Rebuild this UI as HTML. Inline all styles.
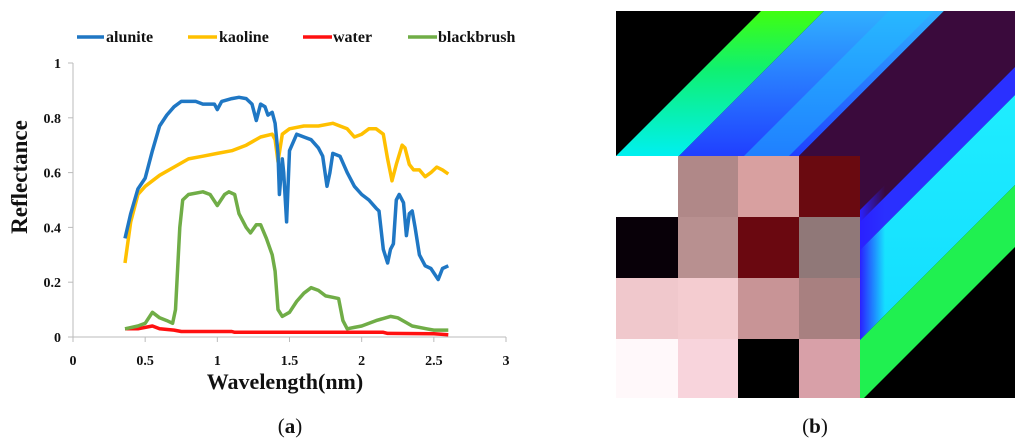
<!DOCTYPE html>
<html><head><meta charset="utf-8"><style>
body{margin:0;background:#fff;}
svg{display:block;font-family:"Liberation Serif",serif;}
</style></head><body>
<svg width="1024" height="446" viewBox="0 0 1024 446">
<defs>
<clipPath id="imgclip"><rect x="616" y="11" width="399" height="387"/></clipPath>
<clipPath id="lowclip"><rect x="860" y="156" width="155" height="242"/></clipPath>
<linearGradient id="g1" gradientUnits="userSpaceOnUse" x1="0" y1="11" x2="0" y2="156"><stop offset="0" stop-color="#40ff10"/><stop offset="0.4" stop-color="#10f070"/><stop offset="1" stop-color="#00f0f0"/></linearGradient>
<linearGradient id="g2" gradientUnits="userSpaceOnUse" x1="0" y1="11" x2="0" y2="300"><stop offset="0" stop-color="#30b0ff"/><stop offset="0.5" stop-color="#2040ff"/><stop offset="1" stop-color="#3010e0"/></linearGradient>
<linearGradient id="g4" gradientUnits="userSpaceOnUse" x1="0" y1="60" x2="0" y2="398"><stop offset="0" stop-color="#20f0ff"/><stop offset="1" stop-color="#10d8ff"/></linearGradient>
<linearGradient id="gb" gradientUnits="userSpaceOnUse" x1="860" y1="0" x2="885" y2="0"><stop offset="0" stop-color="#2a20ff"/><stop offset="1" stop-color="#2a20ff" stop-opacity="0"/></linearGradient>
</defs>
<g font-weight="bold" font-size="16">
<line x1="77" y1="37" x2="104" y2="37" stroke="#1f77c4" stroke-width="3.5"/><text x="106" y="42" fill="#111">alunite</text>
<line x1="188" y1="37" x2="217" y2="37" stroke="#ffc000" stroke-width="3.5"/><text x="219" y="42" fill="#111">kaoline</text>
<line x1="303" y1="37" x2="332" y2="37" stroke="#ff1010" stroke-width="3.5"/><text x="333" y="42" fill="#111">water</text>
<line x1="408" y1="37" x2="437" y2="37" stroke="#70ad47" stroke-width="3.5"/><text x="438" y="42" fill="#111">blackbrush</text>
</g>
<g id="axes"></g>
<g id="series"></g>
<text x="285" y="389" text-anchor="middle" font-size="22" font-weight="bold" fill="#111">Wavelength(nm)</text>
<text transform="translate(27,177) rotate(-90)" text-anchor="middle" font-size="23" font-weight="bold" fill="#111">Reflectance</text>
<text x="290" y="433" text-anchor="middle" font-size="21" fill="#111">(<tspan font-weight="bold">a</tspan>)</text>
<text x="815" y="433" text-anchor="middle" font-size="21" fill="#111">(<tspan font-weight="bold">b</tspan>)</text>
<g clip-path="url(#imgclip)">
<rect x="616" y="11" width="399" height="387" fill="#000"/>
<polygon points="772,0 835,0 385,450 322,450" fill="url(#g1)"/>
<polygon points="835,0 955,0 505,450 385,450" fill="url(#g2)"/>
<polygon points="900,0 945,0 495,450 450,450" fill="#20c0ff" opacity="0.5"/>
<polygon points="955,0 1082,0 632,450 505,450" fill="#3a0a3c"/>
<polygon points="1082,0 1110,0 660,450 632,450" fill="#2a30ff"/>
<polygon points="1110,0 1200,0 750,450 660,450" fill="url(#g4)"/>
<polygon points="1200,0 1262,0 812,450 750,450" fill="#20f050"/>
<g clip-path="url(#lowclip)"><polygon points="1070,0 1200,0 750,450 620,450" fill="url(#gb)"/></g>
<g id="grid"></g>
</g>
</svg>
<script>
// ---- chart data ----
const xTicks=[0,0.5,1,1.5,2,2.5,3];
const yTicks=[0,0.2,0.4,0.6,0.8,1];
const xTickLabels=["0","0.5","1","1.5","2","2.5","3"];
const yTickLabels=["0","0.2","0.4","0.6","0.8","1"];
const aluniteX=[0.36,0.4,0.45,0.5,0.55,0.6,0.65,0.7,0.75,0.8,0.85,0.9,0.95,0.98,1.0,1.03,1.1,1.15,1.2,1.24,1.27,1.3,1.33,1.35,1.38,1.4,1.42,1.43,1.45,1.46,1.48,1.5,1.55,1.6,1.65,1.7,1.73,1.76,1.78,1.8,1.85,1.9,1.95,2.0,2.05,2.1,2.12,2.15,2.18,2.2,2.22,2.24,2.26,2.29,2.31,2.33,2.35,2.37,2.4,2.44,2.48,2.53,2.56,2.6];
const aluniteY=[0.36,0.45,0.54,0.58,0.68,0.77,0.81,0.84,0.86,0.86,0.86,0.85,0.85,0.85,0.83,0.86,0.87,0.875,0.87,0.85,0.79,0.85,0.84,0.81,0.82,0.78,0.67,0.52,0.65,0.6,0.42,0.68,0.74,0.73,0.72,0.69,0.66,0.55,0.6,0.67,0.66,0.6,0.55,0.52,0.5,0.47,0.46,0.32,0.27,0.32,0.34,0.5,0.52,0.49,0.37,0.45,0.46,0.4,0.3,0.26,0.25,0.21,0.25,0.26];
const kaolineX=[0.36,0.4,0.45,0.5,0.6,0.7,0.8,0.9,1.0,1.1,1.2,1.3,1.38,1.4,1.42,1.45,1.5,1.6,1.7,1.8,1.9,1.95,2.0,2.05,2.1,2.15,2.18,2.21,2.24,2.28,2.3,2.33,2.36,2.4,2.44,2.48,2.52,2.56,2.6];
const kaolineY=[0.27,0.42,0.52,0.55,0.59,0.62,0.65,0.66,0.67,0.68,0.7,0.73,0.74,0.72,0.64,0.74,0.76,0.77,0.77,0.78,0.76,0.73,0.74,0.76,0.76,0.74,0.65,0.57,0.63,0.7,0.69,0.63,0.61,0.61,0.585,0.6,0.62,0.61,0.595];
const waterX=[0.36,0.45,0.55,0.6,0.7,0.75,1.1,1.12,2.15,2.18,2.5,2.6];
const waterY=[0.03,0.03,0.04,0.03,0.025,0.02,0.02,0.017,0.017,0.013,0.012,0.008];
const brushX=[0.36,0.45,0.5,0.55,0.6,0.65,0.69,0.71,0.74,0.76,0.8,0.9,0.95,1.0,1.05,1.08,1.12,1.15,1.2,1.23,1.27,1.3,1.34,1.38,1.4,1.42,1.45,1.5,1.55,1.6,1.65,1.7,1.75,1.8,1.84,1.87,1.9,1.95,2.0,2.1,2.2,2.25,2.3,2.35,2.45,2.5,2.6];
const brushY=[0.03,0.04,0.05,0.09,0.07,0.06,0.05,0.1,0.4,0.5,0.52,0.53,0.52,0.48,0.52,0.53,0.52,0.45,0.4,0.38,0.41,0.41,0.36,0.3,0.24,0.1,0.075,0.09,0.13,0.16,0.18,0.17,0.15,0.145,0.14,0.06,0.03,0.035,0.04,0.06,0.075,0.07,0.055,0.04,0.03,0.025,0.025];
// ---- image b cell colours ----
const cellColors=[["#ffffff","#b08888","#d8a0a0","#6a0a10"],["#080008","#b89090","#6a0810","#907878"],["#f0c8cc","#f4ccd0","#c89496","#a88080"],["#fff8fa","#f8d4dc","#000000","#d8a0a8"]];

const NS="http://www.w3.org/2000/svg";
const X0=73,X1=506,Y0=337,Y1=63;
function sx(v){return X0+(v-0)/3*(X1-X0);}
function sy(v){return Y0-(v-0)/1*(Y0-Y1);}
function mk(tag,attrs,parent){const e=document.createElementNS(NS,tag);for(const k in attrs)e.setAttribute(k,attrs[k]);parent.appendChild(e);return e;}
const axes=document.getElementById('axes');
let l=mk('line',{x1:X0,y1:Y1,x2:X0,y2:Y0,stroke:'#bbb','stroke-width':1},axes);


l=mk('line',{x1:X0,y1:Y0,x2:X1,y2:Y0,stroke:'#bbb','stroke-width':1},axes);


yTicks.forEach((v,i)=>{
  const t=mk('line',{x1:X0-5,y1:sy(v),x2:X0,y2:sy(v),stroke:'#bbb'},axes);
  
  
  const tx=mk('text',{x:X0-12,y:sy(v)+5,'text-anchor':'end','font-size':14,'font-weight':'bold',fill:'#111'},axes);
  tx.textContent=yTickLabels[i];
  
  
});
xTicks.forEach((v,i)=>{
  const t=mk('line',{x1:sx(v),y1:Y0,x2:sx(v),y2:Y0+5,stroke:'#bbb'},axes);
  
  
  const tx=mk('text',{x:sx(v),y:365,'text-anchor':'middle','font-size':14,'font-weight':'bold',fill:'#111'},axes);
  tx.textContent=xTickLabels[i];
  
  
});
const ser=document.getElementById('series');
function line(xs,ys,color,name){
  const d=xs.map((x,i)=>(i?'L':'M')+sx(x).toFixed(1)+','+sy(ys[i]).toFixed(1)).join(' ');
  const p=mk('path',{d:d,fill:'none',stroke:color,'stroke-width':3.5,'stroke-linejoin':'round'},ser);
  
  
}
line(waterX,waterY,'#ff1010','water-line');
line(brushX,brushY,'#70ad47','blackbrush-line');
line(kaolineX,kaolineY,'#ffc000','kaoline-line');
line(aluniteX,aluniteY,'#1f77c4','alunite-line');
const grid=document.getElementById('grid');
const colX=[616,678,738,799,860],rowY=[156,217,278,339,398];
cellColors.forEach((row,r)=>row.forEach((c,k)=>{
  const rc=mk('rect',{x:colX[k],y:rowY[r],width:colX[k+1]-colX[k],height:rowY[r+1]-rowY[r],fill:c},grid);
  
  
}));
</script>
</body></html>
